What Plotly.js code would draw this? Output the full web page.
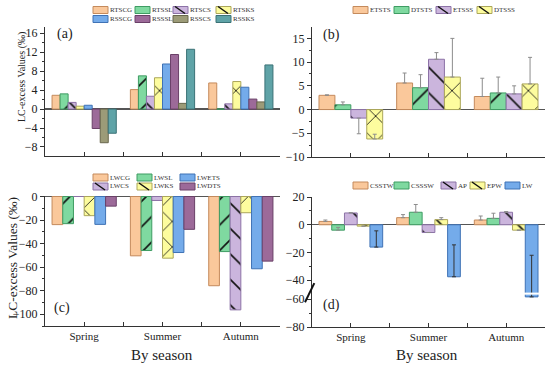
<!DOCTYPE html>
<html><head><meta charset="utf-8">
<script src="https://cdn.plot.ly/plotly-3.0.1.min.js"></script>
<style>html,body{margin:0;padding:0;background:#fff}#chart{width:550px;height:370px}</style>
</head><body><div id="chart"></div>
<script>
// ---------- data ----------
const seasons = ['Spring', 'Summer', 'Autumn'];

// panel (a)
const RTSCG = [2.9, 4.1, 5.5];
const RTSSL = [3.2, 7.0, 0];
const RTSCS = [1.4, 2.7, 1.1];
const RTSKS = [0.6, 6.6, 5.8];
const RSSCG = [0.8, 9.5, 4.6];
const RSSSL = [-4.1, 11.5, 2.1];
const RSSCS = [-7.1, 1.2, 1.5];
const RSSKS = [-5.1, 12.6, 9.3];

// panel (b) values and error bars (plus / minus)
const ETSTS = [3.0, 5.6, 2.75];
const ETSTS_ep = [0.1, 2.1, 3.85];
const ETSTS_em = [0, 0, 0];
const DTSTS = [1.0, 4.6, 3.5];
const DTSTS_ep = [0.6, 2.75, 3.35];
const DTSTS_em = [0, 0, 0];
const ETSSS = [-1.8, 10.6, 3.3];
const ETSSS_ep = [0, 1.4, 1.7];
const ETSSS_em = [3.3, 0, 0];
const DTSSS = [-6.2, 6.85, 5.4];
const DTSSS_ep = [1.0, 8.15, 5.6];
const DTSSS_em = [0, 0, 0];

// panel (c)
const LWCG = [-23.9, -50.4, -75.8];
const LWSL = [-23.1, -45.9, -46.8];
const LWCS = [0, -3.4, -96.3];
const LWKS = [-16.3, -52.4, -13.8];
const LWETS = [-23.7, -47.6, -61.4];
const LWDTS = [-8.2, -27.9, -54.9];

// panel (d) values and error bars (plus / minus)
const CSSTW = [2.4, 5.1, 3.4];
const CSSTW_ep = [1.0, 2.2, 2.9];
const CSSSW = [-3.9, 9.0, 4.6];
const CSSSW_ep = [2.0, 5.6, 3.7];
const AP = [8.5, -5.6, 9.0];
const AP_ep = [0.2, 0, 0.5];
const EPW = [-1.0, 3.7, -3.9];
const EPW_ep = [0, 1.4, 0];
const LW = [-16.1, -37.5, -58.3];
const LW_ep = [11.7, 23.0, 36.3];
const dTicks = [20, 0, -20, -40, -60, -80];

// ---------- styling ----------
const W = 550, H = 370;
const FONT = 'Liberation Serif, Times New Roman, serif';
const COL = {
  orange: ['#FAC89B', '#C48A5C'], green: ['#7FD9A0', '#3F9C63'],
  lpurple: ['#CBB5DD', '#8C72A6'], yellow: ['#FDFC9E', '#ABA65A'],
  blue: ['#74ABEA', '#3F72B5'], dpurple: ['#9C6A99', '#6A4068'],
  olive: ['#9C9B78', '#68674C'], teal: ['#5FA3A7', '#3B7276']
};
const xs = seasons.map((s, i) => i);

// axis break for panel (d)
const BRK = -50, GAP = 6.3;
const T = v => (v >= BRK ? v : v + GAP);

function bar(name, y, ax, col, pat, ep, em, ecol) {
  const t = {
    type: 'bar', name: name, x: xs, y: y, xaxis: 'x' + ax, yaxis: 'y' + ax,
    marker: { color: COL[col][0], line: { color: COL[col][1], width: 1 } },
    hoverinfo: 'skip'
  };
  if (pat) t.marker.pattern = { shape: pat, size: 18, solidity: 0.09, fgcolor: '#111', fgopacity: 1,
    bgcolor: COL[col][0], fillmode: 'overlay' };
  if (ep) {
    t.error_y = { type: 'data', symmetric: false, array: ep, arrayminus: em || ep.map(() => 0),
      color: ecol || '#8c8c8c', thickness: 1, width: 2 };
  }
  t._hatch = (pat === '\\' || pat === 'x');
  return t;
}

const trA = [
  bar('RTSCG', RTSCG, '', 'orange'), bar('RTSSL', RTSSL, '', 'green', '/'),
  bar('RTSCS', RTSCS, '', 'lpurple', '\\'), bar('RTSKS', RTSKS, '', 'yellow', 'x'),
  bar('RSSCG', RSSCG, '', 'blue'), bar('RSSSL', RSSSL, '', 'dpurple'),
  bar('RSSCS', RSSCS, '', 'olive'), bar('RSSKS', RSSKS, '', 'teal')
];
trA.forEach(t => { t.xaxis = 'x'; t.yaxis = 'y'; });

const trB = [
  bar('ETSTS', ETSTS, '2', 'orange', null, ETSTS_ep, ETSTS_em),
  bar('DTSTS', DTSTS, '2', 'green', '/', DTSTS_ep, DTSTS_em),
  bar('ETSSS', ETSSS, '2', 'lpurple', '\\', ETSSS_ep, ETSSS_em),
  bar('DTSSS', DTSSS, '2', 'yellow', 'x', DTSSS_ep, DTSSS_em)
];

const trC = [
  bar('LWCG', LWCG, '3', 'orange'), bar('LWSL', LWSL, '3', 'green', '/'),
  bar('LWCS', LWCS, '3', 'lpurple', '\\'), bar('LWKS', LWKS, '3', 'yellow', 'x'),
  bar('LWETS', LWETS, '3', 'blue'), bar('LWDTS', LWDTS, '3', 'dpurple')
];

function dTrace(name, vals, ep, col, pat, ecol) {
  const yt = vals.map(T);
  const ept = vals.map((v, i) => T(v + ep[i]) - T(v));
  return bar(name, yt, '4', col, pat, ept, null, ecol);
}
const trD = [
  dTrace('CSSTW', CSSTW, CSSTW_ep, 'orange'),
  dTrace('CSSSW', CSSSW, CSSSW_ep, 'green'),
  dTrace('AP', AP, AP_ep, 'lpurple', '\\'),
  dTrace('EPW', EPW, EPW_ep, 'yellow', '\\'),
  dTrace('LW', LW, LW_ep, 'blue', null, '#333')
];

// ---------- axes ----------
const px = v => v / W, py = v => 1 - v / H;
function xax(d0, d1, anchor, labels) {
  return {
    domain: [px(d0), px(d1)], anchor: anchor, range: [-0.5, 2.5],
    tickmode: 'array', tickvals: xs, ticktext: seasons, showticklabels: labels,
    ticks: 'inside', ticklen: 4, tickcolor: '#333', tickwidth: 1,
    minor: { tickmode: 'array', tickvals: [0.5, 1.5], ticks: 'inside', ticklen: 4, tickcolor: '#333', showgrid: false },
    showline: true, linecolor: '#333', linewidth: 1, showgrid: false, zeroline: false,
    tickfont: { size: 11, family: FONT, color: '#222' }, fixedrange: true
  };
}
function yax(top, bot, anchor, range, dtick, mdt) {
  return {
    domain: [py(bot), py(top)], anchor: anchor, range: range,
    tick0: 0, dtick: dtick, ticks: 'outside', ticklen: 4, tickcolor: '#333',
    minor: { tick0: 0, dtick: mdt, ticks: 'outside', ticklen: 2, tickcolor: '#333', showgrid: false },
    showline: true, linecolor: '#333', linewidth: 1, showgrid: false,
    zeroline: true, zerolinecolor: '#555', zerolinewidth: 1.3,
    tickfont: { size: 12, family: FONT, color: '#222' }, fixedrange: true
  };
}

const yd = yax(197, 327, 'x4', [T(-80), 20], 20, 10);
yd.tickmode = 'array';
yd.tickvals = dTicks.map(T);
yd.ticktext = dTicks.map(v => String(v).replace('-', '\u2212'));
yd.minor = { tickmode: 'array', tickvals: [10, -10, -30, -70].map(T), ticks: 'outside', ticklen: 2, tickcolor: '#333', showgrid: false };

const shapes = [], annotations = [];

// ---------- custom legends ----------
function legend(list, xpos, ypos) {
  list.forEach((t, i) => {
    const x0 = xpos[i], yc = ypos[i];
    shapes.push({ type: 'rect', xref: 'paper', yref: 'paper', x0: px(x0), x1: px(x0 + 15),
      y0: py(yc + 3.5), y1: py(yc - 3.5), fillcolor: t.marker.color,
      line: { color: t.marker.line.color, width: 1 } });
    if (t._hatch) shapes.push({ type: 'line', xref: 'paper', yref: 'paper',
      x0: px(x0 + 2), y0: py(yc - 3.5), x1: px(x0 + 12), y1: py(yc + 3.5),
      line: { color: '#111', width: 1.5 } });
    annotations.push({ text: t.name, xref: 'paper', yref: 'paper', x: px(x0 + 16), y: py(yc),
      xanchor: 'left', yanchor: 'middle', showarrow: false, borderpad: 0,
      font: { size: 7, family: FONT, color: '#333' } });
  });
}
legend(trA, [93, 135, 173, 216, 93, 135, 173, 216], [10, 10, 10, 10, 19, 19, 19, 19]);
legend(trB, [353, 394, 436, 477], [10, 10, 10, 10]);
legend([trC[0], trC[1], trC[4], trC[2], trC[3], trC[5]], [93, 137, 180, 93, 137, 180], [177.5, 177.5, 177.5, 186.5, 186.5, 186.5]);
legend(trD, [353, 394, 441, 470, 505], [185.5, 185.5, 185.5, 185.5, 185.5]);

// ---------- axis break decoration for (d) ----------
const nD = trD.length, gw = 1 - 0.18, bw = gw / nD;
const lwIdx = nD - 1, lwX0 = 2 - gw / 2 + bw * lwIdx;
shapes.push({ type: 'rect', xref: 'x4', yref: 'y4', x0: lwX0 - 0.02, x1: lwX0 + bw + 0.02,
  y0: -50.4, y1: -48.9, fillcolor: '#fff', line: { width: 0 }, layer: 'above' });
shapes.push({ type: 'line', xref: 'x4 domain', yref: 'y4', x0: -0.03, x1: 0.01, y0: -55.9, y1: -42.1,
  line: { color: '#111', width: 2 } });

// ---------- titles / panel labels ----------
function ann(text, x, y, size, angle) {
  annotations.push({ text: text, xref: 'paper', yref: 'paper', x: px(x), y: py(y),
    xanchor: 'center', yanchor: 'middle', showarrow: false, textangle: angle || 0,
    font: { size: size, family: FONT, color: '#222' } });
}
ann('(a)', 65, 34, 14); ann('(b)', 331.5, 35, 14);
ann('(c)', 62, 308, 14); ann('(d)', 331.5, 305, 14);
ann('LC-excess Values (\u2030)', 22, 77, 10, -90);
ann('LC-excess Values (\u2030)', 12, 258, 13.5, -90);
ann('By season', 162, 355, 15); ann('By season', 427, 355, 15);

const layout = {
  width: W, height: H, margin: { l: 0, r: 0, t: 0, b: 0 },
  paper_bgcolor: '#fff', plot_bgcolor: 'rgba(0,0,0,0)',
  showlegend: false, barmode: 'group', bargap: 0.18, bargroupgap: 0,
  font: { family: FONT, size: 11, color: '#222' },
  xaxis: xax(45, 280, 'y', false),
  yaxis: yax(27, 156, 'x', [-9.9, 17.3], 4, 2),
  xaxis2: xax(312, 545, 'y2', false),
  yaxis2: yax(27, 157, 'x2', [-10, 17.4], 5, 2.5),
  xaxis3: xax(45, 280, 'y3', true),
  yaxis3: yax(196, 326, 'x3', [-110, 0.4], 20, 10),
  xaxis4: xax(312, 545, 'y4', true),
  yaxis4: yd,
  shapes: shapes, annotations: annotations
};

const data = [].concat(trA, trB, trC, trD).map(t => { const c = Object.assign({}, t); delete c._hatch; return c; });
Plotly.newPlot('chart', data, layout, { staticPlot: true, displayModeBar: false });
</script>
</body></html>
